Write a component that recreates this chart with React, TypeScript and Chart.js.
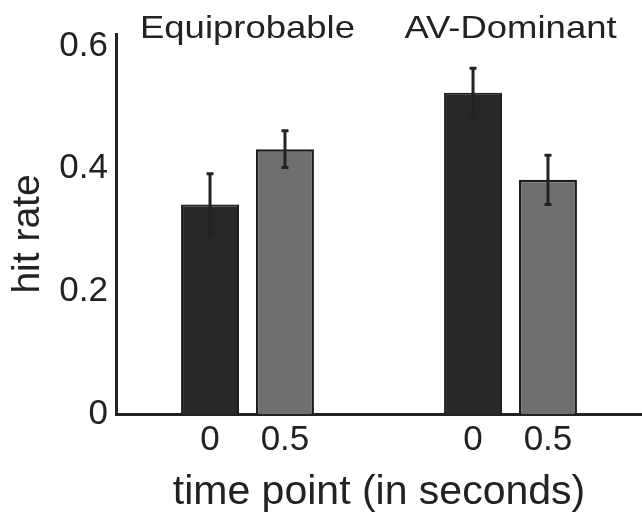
import React, { useEffect, useRef } from "react";
import { Chart, registerables } from "chart.js";

Chart.register(...registerables);

// ---- data ----
const groups = ["Equiprobable", "AV-Dominant"];
const timePoints = ["0", "0.5"];
const hitRateAt0 = [0.342, 0.524];
const hitRateAt05 = [0.432, 0.382];
const errAt0 = [0.05, 0.04];
const errAt05 = [0.03, 0.04];
const yTicks = [0, 0.2, 0.4, 0.6];
const yMax = 0.62;
const yTitle = "hit rate";
const xTitle = "time point (in seconds)";

const FONT = "'Liberation Sans', Arial, Helvetica, sans-serif";
const INK = "#222222";

const errorBarPlugin = {
  id: "errorBars",
  afterDatasetsDraw(chart: any) {
    const ctx = chart.ctx;
    const yS = chart.scales.y;
    ctx.save();
    ctx.strokeStyle = INK;
    ctx.lineWidth = 3;
    chart.data.datasets.forEach((ds: any, di: number) => {
      const meta = chart.getDatasetMeta(di);
      meta.data.forEach((bar: any, i: number) => {
        const v = ds.data[i];
        const e = ds.errors[i];
        const x = bar.x;
        const yt = yS.getPixelForValue(v + e);
        const yb = yS.getPixelForValue(v - e);
        ctx.beginPath();
        ctx.moveTo(x, yt);
        ctx.lineTo(x, yb);
        ctx.moveTo(x - 3.5, yt);
        ctx.lineTo(x + 3.5, yt);
        ctx.moveTo(x - 3.5, yb);
        ctx.lineTo(x + 3.5, yb);
        ctx.stroke();
      });
    });
    ctx.restore();
  },
};

const labelPlugin = {
  id: "labels",
  afterDraw(chart: any) {
    const ctx = chart.ctx;
    const xS = chart.scales.x;
    const area = chart.chartArea;
    ctx.save();
    ctx.fillStyle = INK;
    // group names above the bars (slightly wide lettering as in the source)
    ctx.font = `32px ${FONT}`;
    ctx.textAlign = "center";
    ctx.textBaseline = "alphabetic";
    groups.forEach((g, i) => {
      ctx.save();
      ctx.translate(xS.getPixelForValue(i), 38);
      ctx.scale(1.14, 1);
      ctx.fillText(g, 0, 0);
      ctx.restore();
    });
    // time point labels under each bar
    ctx.font = `35px ${FONT}`;
    ctx.textBaseline = "middle";
    chart.data.datasets.forEach((ds: any, di: number) => {
      const meta = chart.getDatasetMeta(di);
      meta.data.forEach((bar: any) => {
        ctx.fillText(ds.label, bar.x, area.bottom + 26);
      });
    });
    // y title
    ctx.translate(28.5, 234);
    ctx.rotate(-Math.PI / 2);
    ctx.font = `39px ${FONT}`;
    ctx.fillText(yTitle, 0, 0);
    ctx.restore();
  },
};

export default function App() {
  const canvasRef = useRef<HTMLCanvasElement | null>(null);

  useEffect(() => {
    if (!canvasRef.current) return;
    const chart = new Chart(canvasRef.current, {
      type: "bar",
      data: {
        labels: groups,
        datasets: [
          {
            label: timePoints[0],
            data: hitRateAt0,
            errors: errAt0,
            backgroundColor: "#272727",
            borderColor: "#1e1e1e",
            borderWidth: 2,
            categoryPercentage: 0.57,
            barPercentage: 0.773,
          } as any,
          {
            label: timePoints[1],
            data: hitRateAt05,
            errors: errAt05,
            backgroundColor: "#6f6f6f",
            borderColor: "#1e1e1e",
            borderWidth: 2.5,
            categoryPercentage: 0.57,
            barPercentage: 0.773,
          } as any,
        ],
      },
      options: {
        responsive: false,
        animation: false,
        layout: { padding: { top: 34, right: 0, left: 0, bottom: 0 } },
        plugins: {
          legend: { display: false },
          tooltip: { enabled: false },
        },
        scales: {
          x: {
            type: "category",
            offset: true,
            grid: { display: false, drawTicks: false },
            border: { display: true, color: INK, width: 3 },
            ticks: { display: false },
            title: {
              display: true,
              text: xTitle,
              color: INK,
              font: { family: FONT, size: 41, lineHeight: 1.1 },
              padding: { top: 0, bottom: 0 },
            },
            afterFit(scale: any) {
              scale.height = 101;
            },
          },
          y: {
            min: 0,
            max: yMax,
            grid: { display: false, drawTicks: false },
            border: { display: true, color: INK, width: 3 },
            afterBuildTicks(scale: any) {
              scale.ticks = yTicks.map((v) => ({ value: v }));
            },
            ticks: {
              color: INK,
              padding: 8,
              font: { family: FONT, size: 35 },
              callback: (v: any) => (Number(v) === 0 ? "0" : Number(v).toFixed(1)),
            },
            afterFit(scale: any) {
              scale.width = 116;
            },
          },
        },
      } as any,
      plugins: [errorBarPlugin, labelPlugin],
    });
    return () => chart.destroy();
  }, []);

  return (
    <div style={{ position: "fixed", left: 0, top: 0, width: 642, height: 515, background: "#fff" }}>
      <canvas ref={canvasRef} width={642} height={515} style={{ display: "block" }} />
    </div>
  );
}
